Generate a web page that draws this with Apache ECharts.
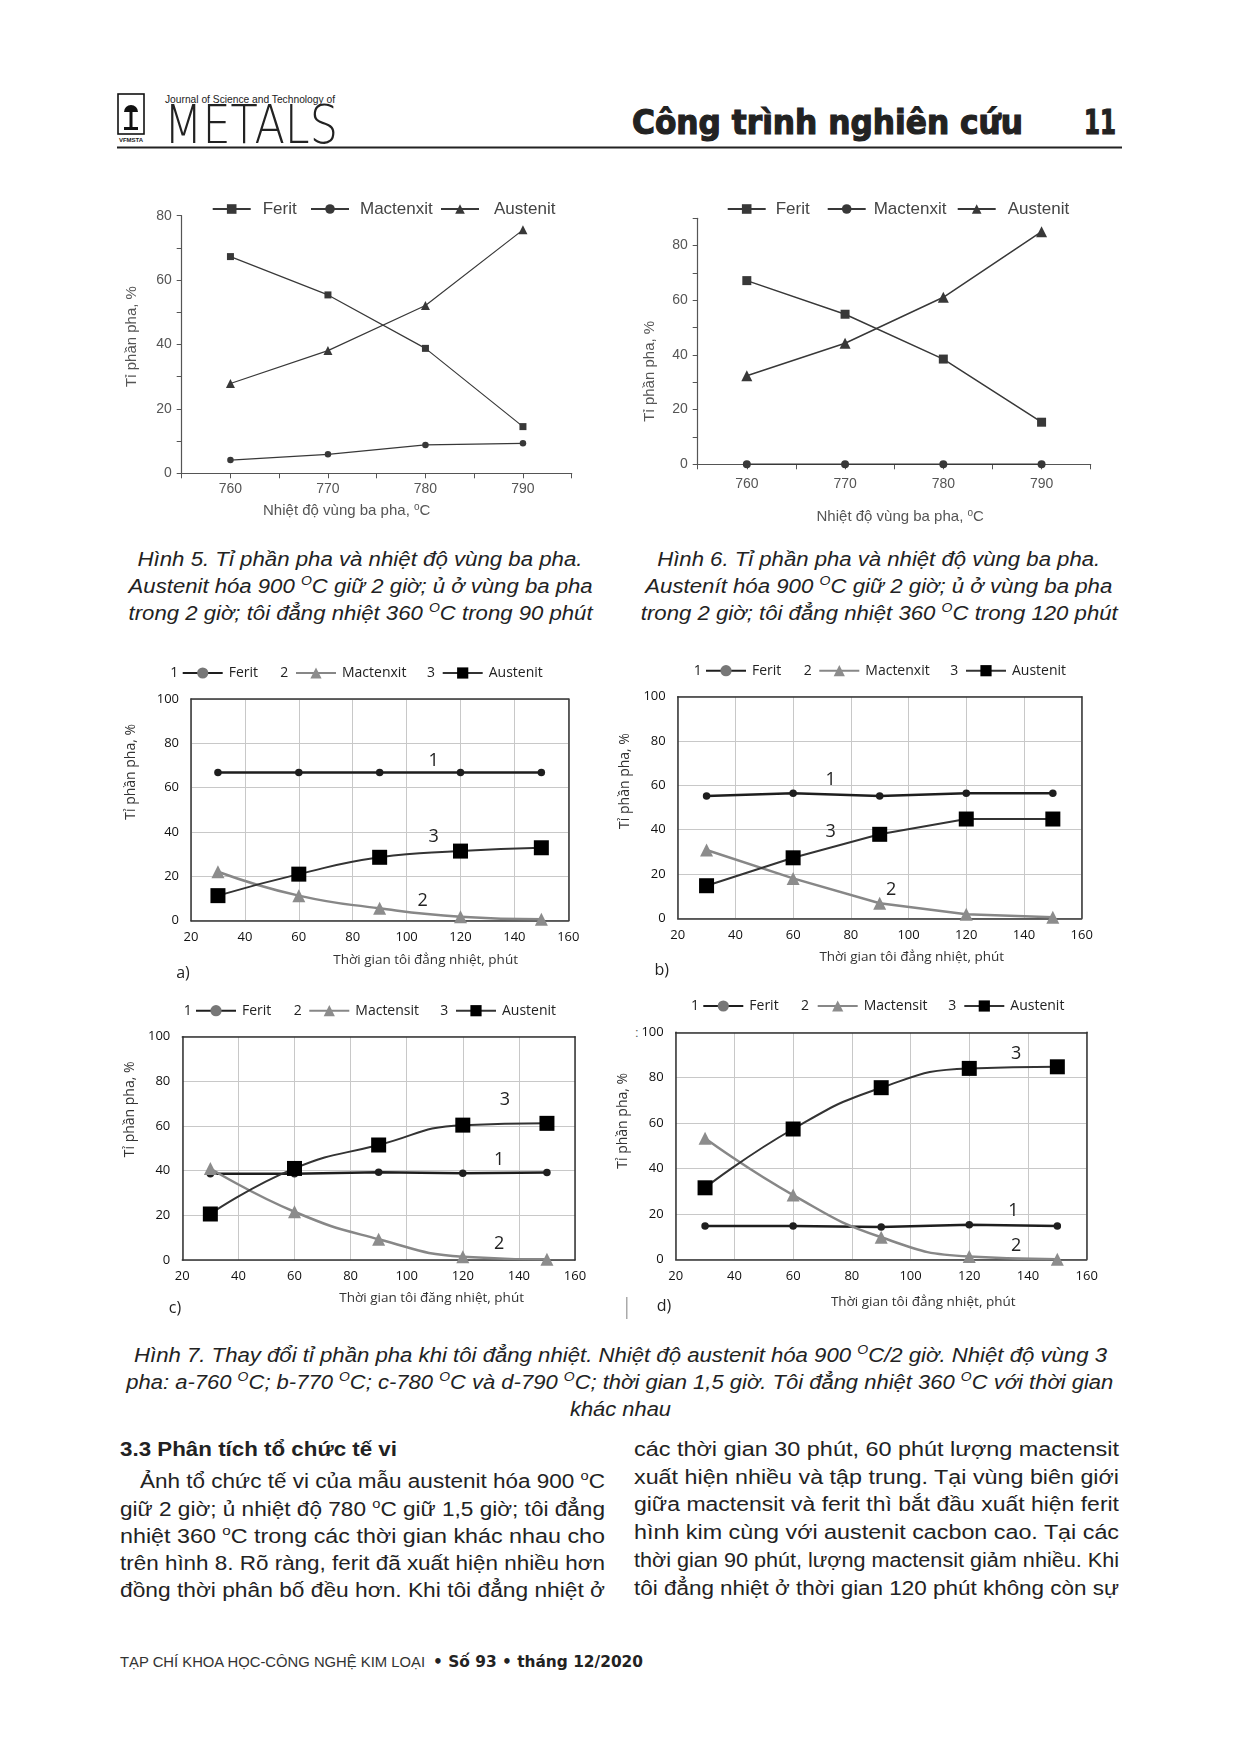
<!DOCTYPE html>
<html>
<head>
<meta charset="utf-8">
<script src="https://cdn.jsdelivr.net/npm/echarts@6/dist/echarts.min.js"></script>
<style>
html, body { margin: 0; padding: 0; background: #fff; }
#page { position: relative; width: 1240px; height: 1754px; overflow: hidden; background: #fff; }
#page svg { position: absolute; left: 0; top: 0; }
.ch { position: absolute; }
</style>
</head>
<body>
<div id="page">
<svg xmlns="http://www.w3.org/2000/svg" width="1240" height="1754" font-family="Liberation Sans, Arial, sans-serif" fill="#222">
  <!-- header -->
  <rect x="118" y="94" width="26" height="40" fill="none" stroke="#111" stroke-width="1.6"/>
  <path d="M124 112 a7 7 0 0 1 14 0 z" fill="#111"/>
  <rect x="129.5" y="112" width="3" height="16" fill="#111"/>
  <rect x="124" y="127" width="14" height="3" fill="#111"/>
  <text x="131" y="142" font-size="6" font-weight="bold" text-anchor="middle">VFMSTA</text>
  <text x="165" y="103" font-size="11" textLength="170" lengthAdjust="spacingAndGlyphs">Journal of Science and Technology of</text>
  <text x="164" y="143" font-family="DejaVu Sans" font-weight="200" font-size="53" textLength="174" lengthAdjust="spacingAndGlyphs">METALS</text>
  <text x="632" y="134" font-family="DejaVu Sans" font-weight="bold" font-size="33" stroke="#222" stroke-width="1.2" textLength="391" lengthAdjust="spacingAndGlyphs">Công trình nghiên cứu</text>
  <text x="1084" y="134" font-family="DejaVu Sans" font-weight="bold" font-size="33" stroke="#222" stroke-width="1.2" textLength="32" lengthAdjust="spacingAndGlyphs">11</text>
  <rect x="117" y="146.5" width="1005" height="2" fill="#222"/>

  <!-- captions fig 5 / 6 -->
  <g font-style="italic" font-size="20.5">
    <text x="360" y="566" text-anchor="middle" textLength="445" lengthAdjust="spacingAndGlyphs">Hình 5. Tỉ phần pha và nhiệt độ vùng ba pha.</text>
    <text x="360.6" y="593" text-anchor="middle" textLength="464" lengthAdjust="spacingAndGlyphs">Austenit hóa 900 <tspan dy="-8" font-size="13">O</tspan><tspan dy="8">C giữ 2 giờ; ủ ở vùng ba pha</tspan></text>
    <text x="360.6" y="620" text-anchor="middle" textLength="464" lengthAdjust="spacingAndGlyphs">trong 2 giờ; tôi đẳng nhiệt 360 <tspan dy="-8" font-size="13">O</tspan><tspan dy="8">C trong 90 phút</tspan></text>
    <text x="878.7" y="566" text-anchor="middle" textLength="443" lengthAdjust="spacingAndGlyphs">Hình 6. Tỉ phần pha và nhiệt độ vùng ba pha.</text>
    <text x="878.8" y="593" text-anchor="middle" textLength="467" lengthAdjust="spacingAndGlyphs">Austenít hóa 900 <tspan dy="-8" font-size="13">O</tspan><tspan dy="8">C giữ 2 giờ; ủ ở vùng ba pha</tspan></text>
    <text x="879.3" y="620" text-anchor="middle" textLength="477" lengthAdjust="spacingAndGlyphs">trong 2 giờ; tôi đẳng nhiệt 360 <tspan dy="-8" font-size="13">O</tspan><tspan dy="8">C trong 120 phút</tspan></text>

    <text x="620.5" y="1362" text-anchor="middle" textLength="973" lengthAdjust="spacingAndGlyphs">Hình 7. Thay đổi tỉ phần pha khi tôi đẳng nhiệt. Nhiệt độ austenit hóa 900 <tspan dy="-8" font-size="13">O</tspan><tspan dy="8">C/2 giờ. Nhiệt độ vùng 3</tspan></text>
    <text x="619.8" y="1389" text-anchor="middle" textLength="987" lengthAdjust="spacingAndGlyphs">pha: a-760 <tspan dy="-8" font-size="13">O</tspan><tspan dy="8">C; b-770 </tspan><tspan dy="-8" font-size="13">O</tspan><tspan dy="8">C; c-780 </tspan><tspan dy="-8" font-size="13">O</tspan><tspan dy="8">C và d-790 </tspan><tspan dy="-8" font-size="13">O</tspan><tspan dy="8">C; thời gian 1,5 giờ. Tôi đẳng nhiệt 360 </tspan><tspan dy="-8" font-size="13">O</tspan><tspan dy="8">C với thời gian</tspan></text>
    <text x="620.5" y="1416" text-anchor="middle" textLength="101" lengthAdjust="spacingAndGlyphs">khác nhau</text>
  </g>

  <!-- body text -->
  <text x="120" y="1456" font-size="20.5" font-weight="bold" textLength="277" lengthAdjust="spacingAndGlyphs">3.3 Phân tích tổ chức tế vi</text>
  <g font-size="20">
    <text x="140" y="1488" textLength="465" lengthAdjust="spacingAndGlyphs">Ảnh tổ chức tế vi của mẫu austenit hóa 900 <tspan dy="-8" font-size="13">o</tspan><tspan dy="8">C</tspan></text>
    <text x="120" y="1516" textLength="485" lengthAdjust="spacingAndGlyphs">giữ 2 giờ; ủ nhiệt độ 780 <tspan dy="-8" font-size="13">o</tspan><tspan dy="8">C giữ 1,5 giờ; tôi đẳng</tspan></text>
    <text x="120" y="1543" textLength="485" lengthAdjust="spacingAndGlyphs">nhiệt 360 <tspan dy="-8" font-size="13">o</tspan><tspan dy="8">C trong các thời gian khác nhau cho</tspan></text>
    <text x="120" y="1570" textLength="485" lengthAdjust="spacingAndGlyphs">trên hình 8. Rõ ràng, ferit đã xuất hiện nhiều hơn</text>
    <text x="120" y="1597" textLength="485" lengthAdjust="spacingAndGlyphs">đồng thời phân bố đều hơn. Khi tôi đẳng nhiệt ở</text>

    <text x="634" y="1456" textLength="485" lengthAdjust="spacingAndGlyphs">các thời gian 30 phút, 60 phút lượng mactensit</text>
    <text x="634" y="1484" textLength="485" lengthAdjust="spacingAndGlyphs">xuất hiện nhiều và tập trung. Tại vùng biên giới</text>
    <text x="634" y="1511" textLength="485" lengthAdjust="spacingAndGlyphs">giữa mactensit và ferit thì bắt đầu xuất hiện ferit</text>
    <text x="634" y="1539" textLength="485" lengthAdjust="spacingAndGlyphs">hình kim cùng với austenit cacbon cao. Tại các</text>
    <text x="634" y="1567" textLength="485" lengthAdjust="spacingAndGlyphs">thời gian 90 phút, lượng mactensit giảm nhiều. Khi</text>
    <text x="634" y="1595" textLength="485" lengthAdjust="spacingAndGlyphs">tôi đẳng nhiệt ở thời gian 120 phút không còn sự</text>
  </g>

  <!-- footer -->
  <text x="120" y="1667" font-size="15.5" fill="#333" textLength="305" lengthAdjust="spacingAndGlyphs">TẠP CHÍ KHOA HỌC-CÔNG NGHỆ KIM LOẠI</text>
  <text x="433" y="1667" font-size="15.5" font-weight="bold" font-family="DejaVu Sans" textLength="210" lengthAdjust="spacingAndGlyphs">• Số 93 • tháng 12/2020</text>

  <!-- scan marks near panel d -->
  <rect x="626" y="1297" width="1.5" height="22" fill="#aaa"/>
  <text x="635" y="1037" font-size="13" fill="#555">:</text>
</svg>

<div class="ch" id="fig5" style="left:110px;top:185px;width:480px;height:345px"></div>
<div class="ch" id="fig6" style="left:620px;top:185px;width:500px;height:350px"></div>
<div class="ch" id="fig7a" style="left:115px;top:655px;width:480px;height:335px"></div>
<div class="ch" id="fig7b" style="left:615px;top:655px;width:485px;height:335px"></div>
<div class="ch" id="fig7c" style="left:115px;top:990px;width:480px;height:335px"></div>
<div class="ch" id="fig7d" style="left:615px;top:990px;width:495px;height:335px"></div>
</div>

<script>
// fig 5 & 6: phase fraction vs three-phase-zone temperature
const temps = [760, 770, 780, 790];
const fig5Ferit = [67.3, 55.4, 38.8, 14.5];
const fig5Mact = [4.1, 5.9, 8.8, 9.3];
const fig5Aust = [27.9, 38.1, 52.1, 75.6];
const fig6Ferit = [67.2, 54.9, 38.5, 15.4];
const fig6Mact = [0, 0, 0, 0];
const fig6Aust = [32.4, 44.3, 61.1, 85.1];
const tempNames = ['Ferit', 'Mactenxit', 'Austenit'];

// fig 7: phase fraction vs isothermal holding time
const times = [30, 60, 90, 120, 150];
const aFerit = [66.9, 66.9, 66.9, 66.9, 66.9];
const aMact = [22.1, 11.3, 5.6, 1.8, 0.6];
const aAust = [11.3, 21, 28.6, 31.4, 32.9];
const bFerit = [55.2, 56.4, 55.2, 56.4, 56.4];
const bMact = [30.8, 18, 6.8, 1.8, 0.5];
const bAust = [14.7, 27.3, 37.9, 44.8, 44.8];
const cFerit = [38.6, 38.6, 39.3, 38.8, 39.2];
const cMact = [41, 21.6, 9.3, 1.5, 0.3];
const cAust = [20.6, 41, 51.5, 60.4, 61.2];
const dFerit = [14.7, 14.7, 14.2, 15.2, 14.7];
const dMact = [53.3, 28.3, 9.7, 1.2, 0];
const dAust = [31.5, 57.4, 75.6, 84.1, 84.8];
const namesAB = ['Ferit', 'Mactenxit', 'Austenit'];
const namesCD = ['Ferit', 'Mactensit', 'Austenit'];
const curveNo = ['1', '2', '3'];

// curve number labels inside plots: [x, y, text]
const annotA = [[110, 72, '1'], [110, 38, '3'], [106, 9, '2']];
const annotB = [[73, 62.5, '1'], [73, 39, '3'], [94, 13, '2']];
const annotC = [[133, 45, '1'], [135, 71.5, '3'], [133, 7, '2']];
const annotD = [[135, 21.5, '1'], [136, 90.5, '3'], [136, 6, '2']];

function pts(xs, ys) {
  return xs.map(function (x, i) { return [x, ys[i]]; });
}

function figTemp(id, o) {
  const chart = echarts.init(document.getElementById(id));
  const col = '#555';
  const sym = ['rect', 'circle', 'triangle'];
  const vals = [o.ferit, o.mact, o.aust];
  chart.setOption({
    animation: false,
    textStyle: { fontFamily: 'Liberation Sans, Arial, sans-serif' },
    grid: Object.assign({ outerBoundsMode: 'none', containLabel: false }, o.grid),
    legend: tempNames.map(function (n, i) {
      return {
        data: [n], left: o.legLeft[i], top: o.legTop, padding: 0,
        itemWidth: o.legW, itemHeight: 12, selectedMode: false,
        textStyle: { fontSize: 17, color: '#444', lineHeight: 18, padding: [0, 0, 0, o.legPad[i]] }
      };
    }),
    xAxis: {
      type: 'value', min: 755, max: 795, interval: 5,
      axisLine: { show: true, lineStyle: { color: col, width: 1.2 } },
      axisTick: { show: true, length: 5, lineStyle: { color: col } },
      axisLabel: { color: col, fontSize: 14, margin: o.xMargin, formatter: function (v) { return v % 10 === 0 ? v : ''; } },
      splitLine: { show: false },
      name: 'Nhiệt độ vùng ba pha, {sup|o}C', nameLocation: 'middle', nameGap: o.xGap,
      nameTextStyle: { fontSize: 15, color: col, lineHeight: 18, padding: o.xPad,
        rich: { sup: { fontSize: 10, lineHeight: 18, verticalAlign: 'top', color: col } } }
    },
    yAxis: {
      type: 'value', min: 0, max: o.yMax, interval: 10,
      axisLine: { show: true, lineStyle: { color: col, width: 1.2 } },
      axisTick: { show: true, length: 5, lineStyle: { color: col } },
      axisLabel: { color: col, fontSize: 14, margin: 10, formatter: function (v) { return v % 20 === 0 ? v : ''; } },
      splitLine: { show: false },
      name: 'Tỉ phần pha, %', nameLocation: 'middle', nameRotate: 90, nameGap: o.yGap,
      nameTextStyle: { fontSize: 15, color: col, padding: o.yPad }
    },
    series: tempNames.map(function (n, i) {
      return {
        name: n, type: 'line', data: pts(temps, vals[i]),
        symbol: sym[i], symbolSize: o.symSize[i],
        lineStyle: { color: '#383838', width: o.lineW },
        itemStyle: { color: '#383838' }
      };
    })
  });
}

function figTime(id, o) {
  const chart = echarts.init(document.getElementById(id));
  const F = '"Open Sans", sans-serif';
  const sym = ['circle', 'triangle', 'rect'];
  const vals = [o.ferit, o.mact, o.aust];
  const lineCol = ['#1e1e1e', '#878787', '#333'];
  const symCol = ['#1e1e1e', '#8c8c8c', '#000'];
  const legCol = ['#777', '#8c8c8c', '#000'];
  const symSize = [7.5, 13, 15];
  const lineW = [2.5, 2.5, 2];
  const edge = { show: true, onZero: false, lineStyle: { color: '#333', width: 1.5 } };
  const grid = { lineStyle: { color: '#c8c8c8', width: 1 } };
  const lab = { color: '#111', fontSize: 13, fontFamily: F };
  const txt = function (x, y, t, size) {
    return { type: 'text', x: x, y: y, silent: true,
      style: { text: t, font: size + 'px ' + F, fill: '#222', align: 'center', verticalAlign: 'middle', textAlign: 'center', textVerticalAlign: 'middle' } };
  };
  chart.setOption({
    animation: false,
    textStyle: { fontFamily: F },
    grid: Object.assign({ outerBoundsMode: 'none', containLabel: false }, o.grid),
    legend: o.names.map(function (n, i) {
      return {
        data: [{ name: n, itemStyle: { color: legCol[i] } }],
        left: o.legLeft[i], top: o.legY - 9, padding: 0,
        itemWidth: 40, itemHeight: 14, selectedMode: false,
        textStyle: { fontSize: 14, color: '#222', lineHeight: 18, padding: [0, 0, 0, 1] }
      };
    }),
    graphic: curveNo.map(function (t, i) { return txt(o.numX[i], o.legY, t, 14); })
      .concat([txt(o.tag[0], o.tag[1], o.tag[2], 16)]),
    xAxis: [{
      type: 'value', min: 20, max: 160, interval: 20,
      axisLine: edge, axisTick: { show: false }, axisLabel: Object.assign({ margin: 10 }, lab),
      splitLine: Object.assign({ show: true }, grid),
      name: o.xName, nameLocation: 'middle', nameGap: o.xGap,
      nameTextStyle: { fontSize: 13.5, color: '#333', padding: [0, 0, 0, o.xPad] }
    }, {
      type: 'value', position: 'top', min: 20, max: 160, interval: 20,
      axisLine: edge, axisTick: { show: false }, axisLabel: { show: false }, splitLine: { show: false }
    }],
    yAxis: [{
      type: 'value', min: 0, max: 100, interval: 20,
      axisLine: edge, axisTick: { show: false }, axisLabel: Object.assign({ margin: 12 }, lab),
      splitLine: Object.assign({ show: true }, grid),
      name: 'Tỉ phần pha, %', nameLocation: 'middle', nameRotate: 90, nameGap: o.yGap,
      nameTextStyle: { fontSize: 14, color: '#333', padding: [0, 0, 0, o.yPad] }
    }, {
      type: 'value', position: 'right', min: 0, max: 100, interval: 20,
      axisLine: edge, axisTick: { show: false }, axisLabel: { show: false }, splitLine: { show: false }
    }],
    series: o.names.map(function (n, i) {
      const s = {
        name: n, type: 'line', data: pts(times, vals[i]),
        xAxisIndex: 0, yAxisIndex: 0,
        smooth: o.smooth[i],
        symbol: sym[i], symbolSize: symSize[i],
        lineStyle: { color: lineCol[i], width: lineW[i] },
        itemStyle: { color: symCol[i] },
        z: 3 + i
      };
      if (i === 0) {
        s.markPoint = {
          symbol: 'circle', symbolSize: 1, silent: true, animation: false,
          itemStyle: { color: 'rgba(0,0,0,0)' },
          label: { show: true, position: 'inside', formatter: '{b}', fontSize: 18, color: '#222', fontFamily: F },
          data: o.annot.map(function (a) { return { name: a[2], coord: [a[0], a[1]] }; })
        };
      }
      return s;
    })
  });
}

figTemp('fig5', {
  ferit: fig5Ferit, mact: fig5Mact, aust: fig5Aust, yMax: 80,
  grid: { left: 71.7, top: 30.7, width: 390, height: 257.6 },
  legLeft: [101.7, 200, 330], legTop: 15, legW: 38, legPad: [7, 6, 10],
  symSize: [7, 6.5, 9], lineW: 1.2,
  xMargin: 9, xGap: 29, xPad: [0, 60, 0, 0], yGap: 42, yPad: [0, 0, 0, 16]
});
figTemp('fig6', {
  ferit: fig6Ferit, mact: fig6Mact, aust: fig6Aust, yMax: 90,
  grid: { left: 77.7, top: 33.3, width: 393, height: 246 },
  legLeft: [106.7, 206.7, 336.7], legTop: 15, legW: 38, legPad: [5, 3, 7],
  symSize: [9, 8, 11], lineW: 1.5,
  xMargin: 13, xGap: 44, xPad: [0, 0, 0, 12], yGap: 40, yPad: [0, 60, 0, 0]
});

figTime('fig7a', {
  ferit: aFerit, mact: aMact, aust: aAust, names: namesAB, annot: annotA,
  smooth: [false, 0.5, 0.5],
  grid: { left: 76, top: 44, width: 377.3, height: 221.7 },
  legY: 18, legLeft: [66.7, 180, 326.7], numX: [59.3, 169.3, 316],
  tag: [68, 318, 'a)'],
  xName: 'Thời gian tôi đẳng nhiệt, phút', xGap: 32, xPad: 92, yGap: 53, yPad: 76
});
figTime('fig7b', {
  ferit: bFerit, mact: bMact, aust: bAust, names: namesAB, annot: annotB,
  smooth: [false, false, false],
  grid: { left: 62.7, top: 41.7, width: 404, height: 221.6 },
  legY: 15.7, legLeft: [90, 203.3, 350], numX: [82.7, 192.7, 339.3],
  tag: [46.7, 315, 'b)'],
  xName: 'Thời gian tôi đẳng nhiệt, phút', xGap: 32, xPad: 64, yGap: 37, yPad: 53
});
figTime('fig7c', {
  ferit: cFerit, mact: cMact, aust: cAust, names: namesCD, annot: annotC,
  smooth: [false, 0.5, 0.5],
  grid: { left: 67.3, top: 46.7, width: 392.7, height: 223.3 },
  legY: 20.7, legLeft: [80, 193.3, 340], numX: [72.7, 182.7, 329.3],
  tag: [60, 318, 'c)'],
  xName: 'Thời gian tôi đăng nhiệt, phút', xGap: 31, xPad: 106, yGap: 41, yPad: 78
});
figTime('fig7d', {
  ferit: dFerit, mact: dMact, aust: dAust, names: namesCD, annot: annotD,
  smooth: [false, 0.5, 0.5],
  grid: { left: 60.7, top: 42.3, width: 411, height: 227 },
  legY: 16, legLeft: [87.3, 201.7, 348.3], numX: [80, 190, 337.3],
  tag: [49, 316.7, 'd)'],
  xName: 'Thời gian tôi đẳng nhiệt, phút', xGap: 36, xPad: 84, yGap: 33, yPad: 50
});
</script>
</body>
</html>
